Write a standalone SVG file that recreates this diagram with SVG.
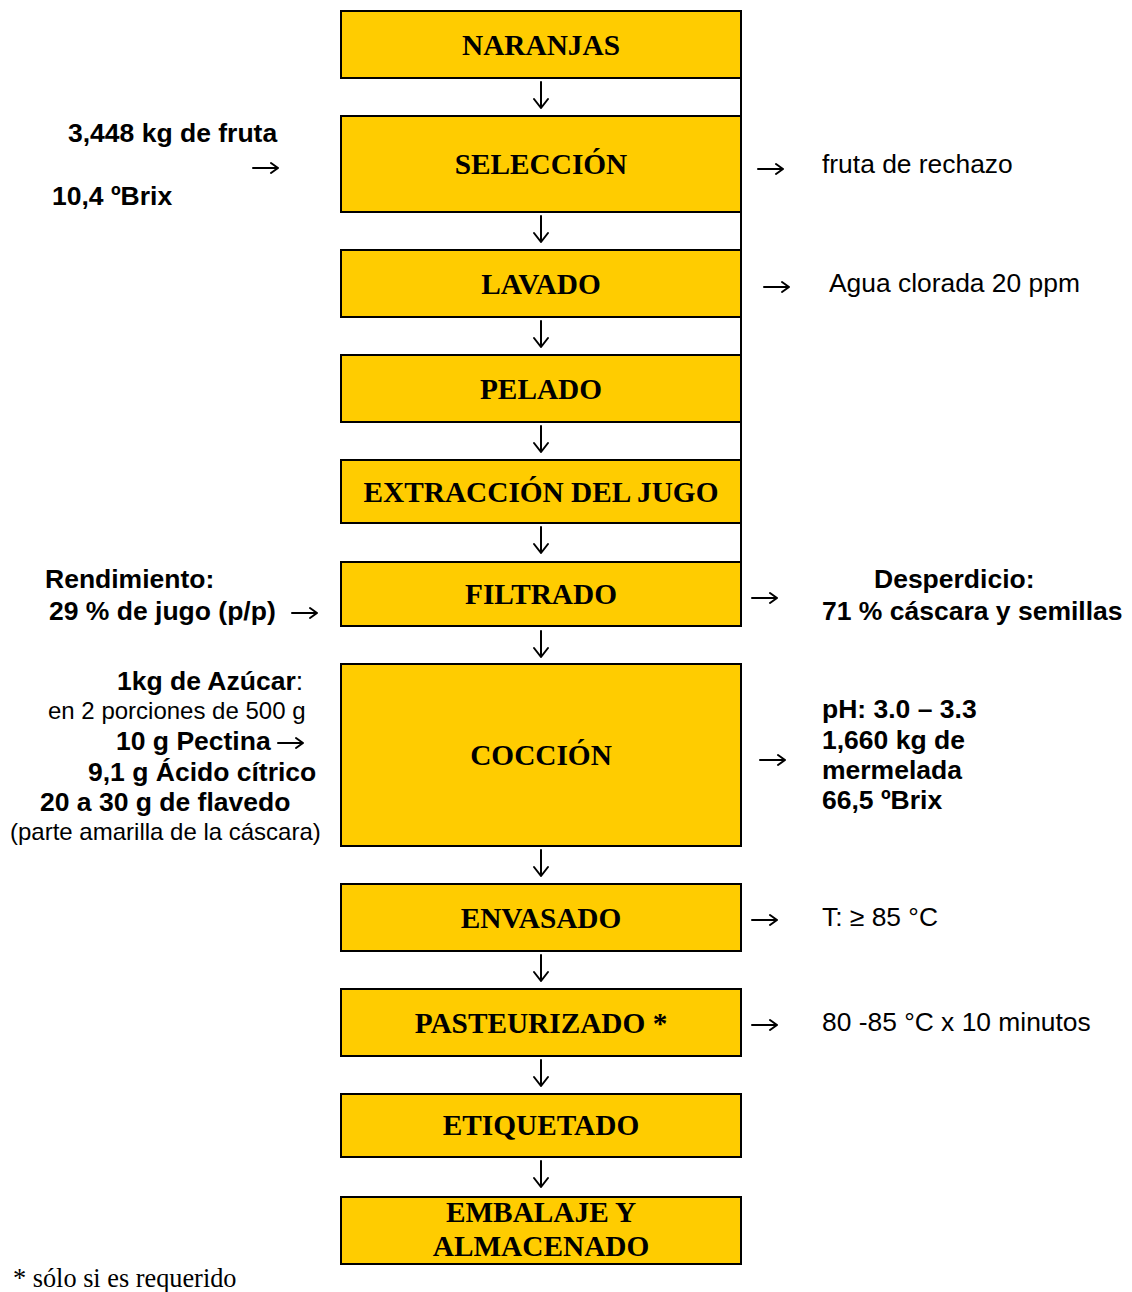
<svg xmlns="http://www.w3.org/2000/svg" width="1132" height="1292" viewBox="0 0 1132 1292">
  <style>
    .box { fill: #FFCC00; stroke: #000; stroke-width: 2; }
    .step { font-family: "Liberation Serif", "Times New Roman", serif; font-weight: bold; font-size: 29.3px; fill: #000; text-anchor: middle; }
    .b { font-family: "Liberation Sans", Arial, sans-serif; font-weight: bold; font-size: 26.5px; fill: #000; }
    .r { font-family: "Liberation Sans", Arial, sans-serif; font-size: 26.4px; fill: #000; }
    .rs { font-family: "Liberation Sans", Arial, sans-serif; font-size: 24px; fill: #000; }
    .note { font-family: "Liberation Serif", "Times New Roman", serif; font-size: 26.3px; fill: #000; }
    .arr { fill: none; stroke: #000; stroke-width: 2; stroke-linecap: round; stroke-linejoin: round; }
    .rule { stroke: #000; stroke-width: 2; }
  </style>
  <defs>
    <!-- down arrow, origin at its top -->
    <path id="down" d="M0,0 V26 M-7,17 L0,26 L7,17"/>
    <!-- right arrow, origin at its left end -->
    <path id="right" d="M0,0 H25 M18,-5 L25,0 L18,5"/>
  </defs>

  <!-- connectors -->
  <g id="connectors">
    <line class="rule" x1="741" y1="78" x2="741" y2="562"/>
    <g class="arr">
      <use href="#down" x="541" y="82"/>
      <use href="#down" x="541" y="216"/>
      <use href="#down" x="541" y="321"/>
      <use href="#down" x="541" y="426"/>
      <use href="#down" x="541" y="527"/>
      <use href="#down" x="541" y="631"/>
      <use href="#down" x="541" y="850"/>
      <use href="#down" x="541" y="955"/>
      <use href="#down" x="541" y="1060"/>
      <use href="#down" x="541" y="1161"/>

      <use href="#right" x="253" y="168"/>
      <use href="#right" x="758" y="169"/>
      <use href="#right" x="764" y="287"/>
      <use href="#right" x="292" y="613"/>
      <use href="#right" x="752" y="598"/>
      <use href="#right" x="278" y="743"/>
      <use href="#right" x="760" y="760"/>
      <use href="#right" x="752" y="920"/>
      <use href="#right" x="752" y="1025"/>
    </g>
  </g>

  <!-- process steps -->
  <g id="naranjas">
    <rect class="box" x="341" y="11" width="400" height="67"/>
    <text class="step" x="541" y="55">NARANJAS</text>
  </g>
  <g id="seleccion">
    <rect class="box" x="341" y="116" width="400" height="96"/>
    <text class="step" x="541" y="174">SELECCIÓN</text>
  </g>
  <g id="lavado">
    <rect class="box" x="341" y="250" width="400" height="67"/>
    <text class="step" x="541" y="294">LAVADO</text>
  </g>
  <g id="pelado">
    <rect class="box" x="341" y="355" width="400" height="67"/>
    <text class="step" x="541" y="399">PELADO</text>
  </g>
  <g id="extraccion">
    <rect class="box" x="341" y="460" width="400" height="63"/>
    <text class="step" x="541" y="502">EXTRACCIÓN DEL JUGO</text>
  </g>
  <g id="filtrado">
    <rect class="box" x="341" y="562" width="400" height="64"/>
    <text class="step" x="541" y="604">FILTRADO</text>
  </g>
  <g id="coccion">
    <rect class="box" x="341" y="664" width="400" height="182"/>
    <text class="step" x="541" y="765">COCCIÓN</text>
  </g>
  <g id="envasado">
    <rect class="box" x="341" y="884" width="400" height="67"/>
    <text class="step" x="541" y="928">ENVASADO</text>
  </g>
  <g id="pasteurizado">
    <rect class="box" x="341" y="989" width="400" height="67"/>
    <text class="step" x="541" y="1033">PASTEURIZADO *</text>
  </g>
  <g id="etiquetado">
    <rect class="box" x="341" y="1094" width="400" height="63"/>
    <text class="step" x="541" y="1135">ETIQUETADO</text>
  </g>
  <g id="embalaje">
    <rect class="box" x="341" y="1197" width="400" height="67"/>
    <text class="step" x="541" y="1222">EMBALAJE Y</text>
    <text class="step" x="541" y="1256">ALMACENADO</text>
  </g>

  <!-- inputs and outputs beside the steps -->
  <g id="entrada-fruta">
    <text class="b" x="68" y="142">3,448 kg de fruta</text>
    <text class="b" x="52" y="205">10,4 ºBrix</text>
  </g>
  <g id="rechazo">
    <text class="r" x="822" y="173">fruta de rechazo</text>
  </g>
  <g id="agua">
    <text class="r" x="829" y="292">Agua clorada 20 ppm</text>
  </g>
  <g id="rendimiento">
    <text class="b" x="45" y="588">Rendimiento:</text>
    <text class="b" x="49" y="620">29 % de jugo (p/p)</text>
  </g>
  <g id="desperdicio">
    <text class="b" x="874" y="588">Desperdicio:</text>
    <text class="b" x="822" y="620">71 % cáscara y semillas</text>
  </g>
  <g id="ingredientes">
    <text class="b" x="117" y="690">1kg de Azúcar<tspan font-weight="normal">:</tspan></text>
    <text class="rs" x="48" y="719">en 2 porciones de 500 g</text>
    <text class="b" x="116" y="750">10 g Pectina</text>
    <text class="b" x="88" y="781">9,1 g Ácido cítrico</text>
    <text class="b" x="40" y="811">20 a 30 g de flavedo</text>
    <text class="rs" x="10" y="840">(parte amarilla de la cáscara)</text>
  </g>
  <g id="producto">
    <text class="b" x="822" y="718">pH: 3.0 – 3.3</text>
    <text class="b" x="822" y="749">1,660 kg de</text>
    <text class="b" x="822" y="779">mermelada</text>
    <text class="b" x="822" y="809">66,5 ºBrix</text>
  </g>
  <g id="temperatura">
    <text class="r" x="822" y="926">T: ≥ 85 °C</text>
  </g>
  <g id="pasteurizacion">
    <text class="r" x="822" y="1031">80 -85 °C x 10 minutos</text>
  </g>

  <text class="note" x="13" y="1287">* sólo si es requerido</text>
</svg>
